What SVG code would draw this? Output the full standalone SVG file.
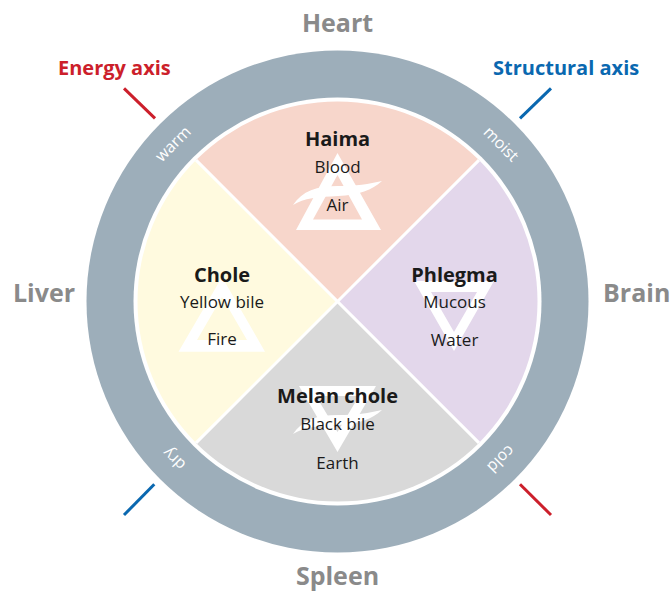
<svg xmlns="http://www.w3.org/2000/svg" width="670" height="591" viewBox="0 0 670 591">
<style>
.organ{font-family:"Open Sans","Noto Sans",sans-serif;font-weight:bold;font-size:25px;fill:#8a8a8a}
.axis{font-family:"Open Sans","Noto Sans",sans-serif;font-weight:bold;font-size:20px}
.ring{font-family:"Open Sans","Noto Sans",sans-serif;font-size:16px;fill:#ffffff;text-anchor:middle}
.title{font-family:"Open Sans","Noto Sans",sans-serif;font-weight:bold;font-size:20px;fill:#1a1a1a;text-anchor:middle}
.sub{font-family:"Open Sans","Noto Sans",sans-serif;font-size:17px;fill:#1a1a1a;text-anchor:middle}
.sym{fill:#ffffff;fill-rule:evenodd}
</style>
<rect width="670" height="591" fill="#ffffff"/>
<g id="ring">
<circle cx="337.5" cy="301.5" r="251" fill="#9daeba"/>
<circle cx="337.5" cy="301.5" r="204" fill="#ffffff"/>
<text class="ring" transform="translate(176.8,147.8) rotate(-45)">warm</text>
<text class="ring" transform="translate(497.2,147.8) rotate(45)">moist</text>
<text class="ring" transform="translate(177.8,455.2) rotate(-135)">dry</text>
<text class="ring" transform="translate(497.2,455.2) rotate(135)">cold</text>
</g>
<g id="haima">
<path d="M337.5,301.5 L196.08,160.08 A200,200 0 0 1 478.92,160.08 Z" fill="#f7d6cb"/>
<path class="sym" d="M337.5,153 L296,230 L381,230 Z M337.5,175 L313,219.5 L362,219.5 Z"/>
<path class="sym" d="M293,205 C302,191 317,186 338,186 C356,186 369,184 382,181 C372,190 359,195 338,196 C318,197 304,198 293,205 Z"/>
<text class="title" x="337.5" y="146">Haima</text>
<text class="sub" x="337.5" y="173">Blood</text>
<text class="sub" x="337.5" y="211">Air</text>
</g>
<g id="phlegma">
<path d="M337.5,301.5 L478.92,160.08 A200,200 0 0 1 478.92,442.92 Z" fill="#e3d7eb"/>
<path class="sym" d="M414,281 L494,281 L454,351 Z M431,292 L477,292 L454,332 Z"/>
<text class="title" x="454.5" y="282">Phlegma</text>
<text class="sub" x="454.5" y="307.5">Mucous</text>
<text class="sub" x="454.5" y="345.5">Water</text>
</g>
<g id="melanchole">
<path d="M337.5,301.5 L478.92,442.92 A200,200 0 0 1 196.08,442.92 Z" fill="#d9d9d9"/>
<path class="sym" d="M299,386 L376,386 L337.5,452 Z M316,396 L359,396 L337.5,432 Z"/>
<path class="sym" transform="translate(0,229)" d="M293,205 C302,191 317,186 338,186 C356,186 369,184 382,181 C372,190 359,195 338,196 C318,197 304,198 293,205 Z"/>
<text class="title" x="337.5" y="403">Melan chole</text>
<text class="sub" x="337.5" y="429.5">Black bile</text>
<text class="sub" x="337.5" y="468.5">Earth</text>
</g>
<g id="chole">
<path d="M337.5,301.5 L196.08,442.92 A200,200 0 0 1 196.08,160.08 Z" fill="#fffadf"/>
<path class="sym" d="M222,277 L178.5,351.7 L265,351.7 Z M222,297 L197,340 L247,340 Z"/>
<text class="title" x="222" y="282">Chole</text>
<text class="sub" x="222" y="307.5">Yellow bile</text>
<text class="sub" x="222" y="345">Fire</text>
</g>
<g id="connectors" stroke-width="3" fill="none">
<line x1="196.08" y1="160.08" x2="478.92" y2="442.92" stroke="#ffffff"/>
<line x1="478.92" y1="160.08" x2="196.08" y2="442.92" stroke="#ffffff"/>
<line x1="124" y1="88.3" x2="155" y2="118.3" stroke="#cc1f2b"/>
<line x1="551" y1="88.3" x2="520" y2="118.3" stroke="#0a68b0"/>
<line x1="154.3" y1="484.3" x2="124" y2="515" stroke="#0a68b0"/>
<line x1="520" y1="484.3" x2="551" y2="515" stroke="#cc1f2b"/>
</g>
<g id="labels">
<text class="organ" x="337.5" y="32" text-anchor="middle">Heart</text>
<text class="organ" x="13" y="302">Liver</text>
<text class="organ" x="603" y="302">Brain</text>
<text class="organ" x="337.5" y="585" text-anchor="middle">Spleen</text>
<text class="axis" x="58" y="75" fill="#cc1f2b">Energy axis</text>
<text class="axis" x="493" y="75" fill="#0a68b0">Structural axis</text>
</g>
</svg>
